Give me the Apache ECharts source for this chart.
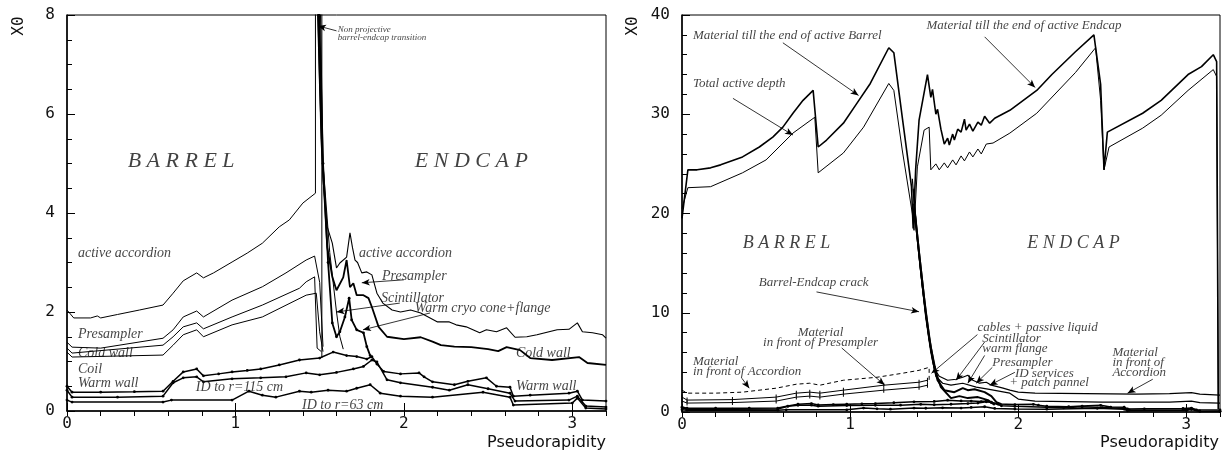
<!DOCTYPE html>
<html><head><meta charset="utf-8">
<script src="https://cdn.jsdelivr.net/npm/echarts@6/dist/echarts.min.js"></script>
<style>html,body{margin:0;padding:0;background:#fff}#c{width:1223px;height:455px}</style>
</head><body><div id="c"></div>
<script>
// ---------- LEFT PANEL DATA (eta, X0) ----------
const accBarrel = [[0,2.04],[0.04,1.88],[0.14,1.88],[0.18,1.92],[0.2,1.88],[0.3,1.95],[0.43,2.04],[0.57,2.14],[0.63,2.38],[0.69,2.63],[0.77,2.79],[0.81,2.69],[0.87,2.79],[0.98,3.01],[1.07,3.19],[1.16,3.39],[1.26,3.72],[1.32,3.86],[1.40,4.2],[1.475,4.4],[1.475,9]];
const presBarrel = [[0,1.39],[0.03,1.29],[0.2,1.27],[0.57,1.47],[0.63,1.64],[0.69,1.9],[0.77,2.02],[0.81,1.9],[0.98,2.24],[1.16,2.51],[1.3,2.79],[1.42,3.05],[1.47,3.13],[1.50,2.6],[1.52,1.3]];
const coldBarrel = [[0,1.27],[0.03,1.17],[0.57,1.33],[0.63,1.5],[0.69,1.7],[0.77,1.78],[0.81,1.66],[0.98,1.9],[1.16,2.14],[1.38,2.48],[1.42,2.61],[1.47,2.71],[1.485,1.27],[1.51,1.2]];
const coilBarrel = [[0,1.19],[0.03,1.09],[0.57,1.13],[0.63,1.33],[0.69,1.54],[0.77,1.64],[0.81,1.5],[0.98,1.74],[1.16,1.9],[1.42,2.34],[1.48,2.38],[1.5,1.6],[1.52,1.2]];
const accEndcap = [[1.48,9],[1.50,6.5],[1.52,4.67],[1.545,3.72],[1.575,3.39],[1.6,2.89],[1.62,2.99],[1.66,3.11],[1.68,3.6],[1.695,3.3],[1.71,3.05],[1.725,3.0],[1.75,2.79],[1.78,2.81],[1.81,2.75],[1.84,2.38],[1.875,2.18],[1.93,2.04],[1.98,2.0],[2.04,2.04],[2.1,1.98],[2.2,1.8],[2.27,1.8],[2.31,1.74],[2.37,1.7],[2.45,1.58],[2.49,1.64],[2.55,1.6],[2.61,1.68],[2.66,1.49],[2.73,1.5],[2.79,1.54],[2.91,1.64],[2.98,1.65],[3.03,1.78],[3.06,1.6],[3.12,1.58],[3.18,1.54],[3.2,1.47]];
const presEndcap = [[1.485,9],[1.51,5.5],[1.545,3.31],[1.575,2.71],[1.6,2.44],[1.64,2.7],[1.66,3.05],[1.68,2.5],[1.7,2.58],[1.72,2.34],[1.76,2.34],[1.79,2.28],[1.81,2.1],[1.85,1.7],[1.9,1.5],[2.0,1.45],[2.1,1.49],[2.17,1.4],[2.22,1.33],[2.3,1.3],[2.4,1.29],[2.5,1.25],[2.56,1.21],[2.61,1.29],[2.69,1.23],[2.75,1.07],[2.88,1.03],[3.04,1.09],[3.09,0.97],[3.2,0.93]];
const cryoEndcap = [[1.49,9],[1.52,5],[1.55,3.0],[1.575,1.78],[1.6,1.5],[1.62,1.6],[1.65,1.9],[1.675,2.28],[1.69,1.84],[1.72,1.64],[1.76,1.58],[1.78,1.3],[1.8,1.12]];
const scintEndcap = [[1.5,9],[1.52,5],[1.56,3.2],[1.6,2.0],[1.62,1.5],[1.64,1.25]];
const crackEdge = [[1.513,9],[1.513,1.07]];
const warmWall = [[0,0.5],[0.03,0.38],[0.2,0.38],[0.4,0.39],[0.57,0.4],[0.63,0.6],[0.69,0.79],[0.77,0.85],[0.81,0.71],[0.9,0.75],[0.98,0.79],[1.07,0.82],[1.15,0.85],[1.26,0.93],[1.38,1.03],[1.5,1.07],[1.58,1.19],[1.66,1.12],[1.72,1.1],[1.78,1.05],[1.81,1.1],[1.84,0.95],[1.88,0.8],[1.98,0.75],[2.09,0.77],[2.12,0.69],[2.17,0.59],[2.3,0.53],[2.38,0.6],[2.49,0.67],[2.55,0.5],[2.63,0.48],[2.65,0.3],[2.75,0.32],[2.98,0.36],[3.03,0.4],[3.06,0.22],[3.2,0.2]];
const id115 = [[0,0.42],[0.03,0.28],[0.3,0.28],[0.57,0.3],[0.63,0.57],[0.69,0.67],[0.77,0.69],[0.81,0.59],[0.98,0.65],[1.15,0.67],[1.3,0.69],[1.42,0.77],[1.5,0.73],[1.6,0.78],[1.7,0.85],[1.76,0.9],[1.81,1.03],[1.84,0.99],[1.9,0.63],[1.98,0.57],[2.17,0.48],[2.27,0.42],[2.38,0.53],[2.5,0.45],[2.63,0.36],[2.66,0.2],[2.98,0.22],[3.03,0.3],[3.08,0.1],[3.2,0.08]];
const id63 = [[0,0.22],[0.03,0.18],[0.57,0.18],[0.62,0.22],[0.98,0.22],[1.08,0.4],[1.16,0.32],[1.24,0.28],[1.38,0.4],[1.45,0.38],[1.55,0.42],[1.66,0.4],[1.72,0.46],[1.8,0.53],[1.86,0.36],[1.98,0.3],[2.17,0.28],[2.47,0.38],[2.63,0.28],[2.65,0.12],[3.0,0.16],[3.03,0.26],[3.08,0.06],[3.2,0.04]];

// ---------- RIGHT PANEL DATA (eta, X0) ----------
const tillEnd = [[0,19.5],[0.035,24.4],[0.09,24.4],[0.17,24.6],[0.23,24.9],[0.36,25.7],[0.46,26.7],[0.54,27.7],[0.6,28.7],[0.66,30.1],[0.72,31.4],[0.78,32.4],[0.81,26.7],[0.86,27.4],[0.96,29.1],[1.04,31.1],[1.12,33.1],[1.23,36.7],[1.26,36.2],[1.31,29.7],[1.365,22.7],[1.375,18.5],[1.39,24.5],[1.41,29.4],[1.46,34],[1.48,31.7],[1.49,32.5],[1.51,30.0],[1.52,30.5],[1.54,28.5],[1.56,27.0],[1.58,27.6],[1.59,26.9],[1.61,28.0],[1.62,27.4],[1.64,28.5],[1.66,28.2],[1.68,29.5],[1.69,28.4],[1.71,29.0],[1.73,28.3],[1.76,29.2],[1.78,28.9],[1.80,29.8],[1.83,29.1],[1.86,29.6],[1.95,30.4],[2.11,32.4],[2.2,34],[2.34,36.3],[2.45,38],[2.46,38.2],[2.49,33],[2.51,24.4],[2.53,28.2],[2.74,30.1],[2.85,31.4],[3.01,34],[3.09,34.8],[3.16,36],[3.18,35.3],[3.19,0.3]];
const activeDepth = [[0,20.5],[0.035,22.6],[0.17,22.7],[0.36,24.1],[0.5,25.4],[0.66,28.1],[0.79,29.7],[0.81,24.1],[0.96,26.1],[1.08,28.7],[1.23,33.1],[1.26,32.4],[1.31,26.4],[1.37,20],[1.38,18.3],[1.40,24.7],[1.44,28.4],[1.47,28.7],[1.48,24.4],[1.49,24.3],[1.51,25.0],[1.53,24.4],[1.56,25.1],[1.58,24.6],[1.61,25.4],[1.63,24.9],[1.66,25.8],[1.68,25.3],[1.71,26.2],[1.73,25.7],[1.76,26.5],[1.78,26.0],[1.81,27.0],[1.85,27.1],[1.95,28.1],[2.11,30.1],[2.34,34.2],[2.46,36.7],[2.49,31.4],[2.51,24.4],[2.54,26.7],[2.74,28.6],[2.85,29.9],[3.01,32.4],[3.16,34.5],[3.18,33.8],[3.19,0.3]];
const frontAccBarrel = [[0,2.2],[0.03,1.9],[0.2,1.9],[0.36,2.0],[0.56,2.4],[0.68,2.8],[0.76,2.9],[0.82,2.7],[0.96,3.2],[1.16,3.5],[1.31,3.9],[1.41,4.2],[1.47,4.5],[1.47,3.0]];
const frontPres1 = [[0,1.5],[0.03,1.2],[0.3,1.25],[0.56,1.5],[0.68,1.9],[0.76,2.0],[0.82,1.9],[0.96,2.2],[1.2,2.7],[1.41,3.0],[1.46,3.2]];
const frontPres2 = [[0,1.1],[0.03,0.9],[0.3,0.95],[0.56,1.1],[0.68,1.5],[0.76,1.6],[0.82,1.5],[0.96,1.8],[1.2,2.2],[1.41,2.5],[1.46,2.7]];
const frontAccEndcap = [[1.37,23.5],[1.39,19],[1.42,14],[1.45,9.5],[1.48,6],[1.50,4.4],[1.53,3.6],[1.58,3.2],[1.63,3.3],[1.67,3.5],[1.70,3.7],[1.73,3.2],[1.77,2.9],[1.81,3.0],[1.84,2.7],[1.91,2.4],[1.95,2.2],[2.0,2.0],[2.1,1.9],[2.4,1.85],[2.7,1.8],[2.9,1.85],[3.03,1.95],[3.08,1.8],[3.2,1.7]];
const frontPresEndcap = [[1.375,22.5],[1.40,17.5],[1.43,12.5],[1.46,8.5],[1.49,5.2],[1.51,3.6],[1.55,2.9],[1.6,2.7],[1.67,2.9],[1.75,2.5],[1.82,2.3],[1.95,1.9],[2.0,1.3],[2.1,1.1],[2.5,1.0],[2.9,1.0],[3.03,1.1],[3.08,0.95],[3.2,0.9]];
const cablesEndcap = [[1.38,21],[1.41,16],[1.44,11.5],[1.47,7.5],[1.50,4.6],[1.52,3.2],[1.56,2.2],[1.62,2.0],[1.67,2.4],[1.70,2.2],[1.74,2.3],[1.8,2.0],[1.84,1.6],[1.87,1.0],[1.9,0.8]];
const flangeEndcap = [[1.385,20],[1.42,14.5],[1.45,10],[1.48,6.5],[1.51,4.0],[1.54,2.5],[1.6,1.4],[1.65,1.6],[1.7,1.4],[1.76,1.5],[1.82,1.2],[1.86,0.7]];

// ---------- ANNOTATIONS [text, eta, X0, kind] ----------
const leftLabels = [
  ['B A R R E L',0.36,5.05,'big'],['E N D C A P',2.065,5.05,'big'],
  ['Non projective\nbarrel-endcap transition',1.608,7.62,'tiny'],
  ['active accordion',0.065,3.19],['Presampler',0.065,1.54],['Cold wall',0.065,1.17],
  ['Coil',0.065,0.85],['Warm wall',0.065,0.55],['ID to r=115 cm',0.765,0.48],
  ['ID to r=63 cm',1.395,0.12],['active accordion',1.733,3.19],['Presampler',1.87,2.73],
  ['Scintillator',1.864,2.28],['Warm cryo cone+flange',2.065,2.08],
  ['Cold wall',2.665,1.17],['Warm wall',2.665,0.5]
];
const leftArrows = [[[1.60,7.68],[1.49,7.78]],[[2.0,2.65],[1.75,2.59]],[[1.976,2.18],[1.60,2.0]],[[2.155,1.98],[1.757,1.64]]];
const rightLabels = [
  ['Material till the end of active Barrel',0.065,37.9],['Total active depth',0.065,33.1],
  ['Material till the end of active Endcap',1.454,38.9],
  ['B A R R E L',0.362,17.0,'mid'],['E N D C A P',2.053,17.0,'mid'],
  ['Barrel-Endcap crack',0.457,13.0],
  ['Material\nin front of Presampler',0.824,7.46,'center'],
  ['Material\nin front of Accordion',0.065,4.53],
  ['cables + passive liquid',1.757,8.5],['Scintillator',1.786,7.35],['warm flange',1.786,6.35],
  ['Presampler',1.846,5.0],['ID services',1.98,3.9],['+ patch pannel',1.947,3.0],
  ['Material\nin front of\nAccordion',2.56,4.94]
];
const rightArrows = [[[0.6,37.2],[1.05,31.9]],[[0.303,31.6],[0.66,27.9]],[[1.8,37.8],[2.1,32.7]],[[0.80,12.1],[1.41,10.1]],[[0.95,6.45],[1.205,2.72]],[[0.356,3.4],[0.40,2.4]],[[1.757,7.8],[1.484,3.9]],[[1.8,7.05],[1.63,3.2]],[[1.80,5.7],[1.70,2.9]],[[1.846,4.5],[1.75,2.9]],[[1.98,4.0],[1.83,2.7]],[[2.80,3.3],[2.65,1.9]]];

const SERIF = 'Liberation Serif', MONO = 'DejaVu Sans Mono';
const chart = echarts.init(document.getElementById('c'), null, {renderer:'canvas'});

function mainX(gi){ return {gridIndex:gi,type:'value',min:0,max:3.2,interval:1,
  axisLine:{show:true,onZero:false,lineStyle:{color:'#000',width:1.5}},
  axisTick:{show:true,inside:true,length:8,lineStyle:{color:'#000'}},
  splitLine:{show:false},
  axisLabel:{showMaxLabel:false,fontFamily:MONO,fontSize:16,color:'#111',margin:5}}; }
function minorX(gi){ return {gridIndex:gi,type:'value',min:0,max:3.2,interval:0.2,
  axisLine:{show:false},axisTick:{show:true,inside:true,length:5,lineStyle:{color:'#000'}},
  splitLine:{show:false},axisLabel:{show:false}}; }
function yAx(gi,max,iv,ms){ return {gridIndex:gi,type:'value',min:0,max:max,interval:iv,
  axisLine:{show:true,onZero:false,lineStyle:{color:'#000',width:1.5}},
  axisTick:{show:true,inside:true,length:8,lineStyle:{color:'#000'}},
  minorTick:{show:true,splitNumber:ms,length:5,lineStyle:{color:'#000'}},
  splitLine:{show:false},
  axisLabel:{fontFamily:MONO,fontSize:16,color:'#111',margin:12}}; }

function line(data, xi, yi, o){ o=o||{};
  return {type:'line',xAxisIndex:xi,yAxisIndex:yi,data:data,clip:true,
    showSymbol:!!o.sym,symbol:o.symbol||'circle',symbolSize:o.symSize||2.8,
    itemStyle:{color:'#000'},
    lineStyle:{color:'#000',width:o.w||1,type:o.type||'solid'},
    silent:true,animation:false,z:o.z||2}; }

function labelSeries(list, xi, yi, fs){
  return {type:'scatter',xAxisIndex:xi,yAxisIndex:yi,symbolSize:0,silent:true,animation:false,z:5,
    data:list.map(function(l){
      const kind=l[3]; let size=fs, lh=Math.round(fs*0.78);
      if(kind==='big'){size=22;} else if(kind==='mid'){size=18;} else if(kind==='tiny'){size=9;lh=8.5;}
      return {value:[l[1],l[2]],label:{show:true,formatter:l[0],
        position:kind==='center'?'inside':'right',distance:0,
        align:kind==='center'?'center':'left',
        fontFamily:SERIF,fontStyle:'italic',fontSize:size,lineHeight:lh,color:'#111'}};
    })};
}
function arrowMark(list){
  return {silent:true,symbol:['none','arrow'],symbolSize:[5,8],animation:false,
    label:{show:false},lineStyle:{color:'#000',width:0.8,type:'solid'},
    emphasis:{disabled:true},
    data:list.map(function(a){return [{coord:a[0]},{coord:a[1]}];})};
}

const s = [];
// left
s.push(line(accBarrel,0,0,{w:1}));
s.push(line(presBarrel,0,0,{w:1}));
s.push(line(coldBarrel,0,0,{w:1}));
s.push(line(coilBarrel,0,0,{w:1}));
s.push(line(accEndcap,0,0,{w:1.1}));
s.push(line(presEndcap,0,0,{w:1.8}));
s.push(line(cryoEndcap,0,0,{w:1.8,sym:true}));
s.push(line(scintEndcap,0,0,{w:1}));
s.push(line(crackEdge,0,0,{w:1}));
s.push(line(warmWall,0,0,{w:1.5,sym:true}));
s.push(line(id115,0,0,{w:1.5,sym:true}));
const l63 = line(id63,0,0,{w:1.5,sym:true}); l63.markLine = arrowMark(leftArrows); s.push(l63);
s.push(labelSeries(leftLabels,0,0,14));
// right
s.push(line(tillEnd,2,1,{w:1.6}));
s.push(line(activeDepth,2,1,{w:1}));
s.push(line(frontAccBarrel,2,1,{w:1,type:[4,3]}));
s.push(line(frontPres1,2,1,{w:1,sym:true,symbol:'rect',symSize:[1,5]}));
s.push(line(frontPres2,2,1,{w:1,sym:true,symbol:'rect',symSize:[1,5]}));
s.push(line(frontAccEndcap,2,1,{w:1.2}));
s.push(line(frontPresEndcap,2,1,{w:1.2}));
s.push(line(cablesEndcap,2,1,{w:2}));
s.push(line(flangeEndcap,2,1,{w:2}));
s.push(line(warmWall,2,1,{w:1.5,sym:true}));
s.push(line(id115,2,1,{w:1.5,sym:true}));
const r63 = line(id63,2,1,{w:1.5,sym:true}); r63.markLine = arrowMark(rightArrows); s.push(r63);
s.push(labelSeries(rightLabels,2,1,13));

chart.setOption({
  animation:false,
  backgroundColor:'#fff',
  grid:[{left:67,right:617,top:15,bottom:44,show:true,borderColor:'#000',borderWidth:1},
        {left:682,right:3,top:15,bottom:43,show:true,borderColor:'#000',borderWidth:1}],
  xAxis:[mainX(0),minorX(0),mainX(1),minorX(1)],
  yAxis:[yAx(0,8,2,4),yAx(1,40,10,5)],
  series:s,
  graphic:[
    {type:'text',x:19,y:26,rotation:Math.PI/2,style:{text:'X0',font:'16px "DejaVu Sans Mono"',fill:'#111',align:'center',verticalAlign:'middle'}},
    {type:'text',x:633,y:26,rotation:Math.PI/2,style:{text:'X0',font:'16px "DejaVu Sans Mono"',fill:'#111',align:'center',verticalAlign:'middle'}},
    {type:'text',x:606,y:443,style:{text:'Pseudorapidity',font:'16px "DejaVu Sans"',fill:'#111',align:'right',verticalAlign:'middle'}},
    {type:'text',x:1219,y:443,style:{text:'Pseudorapidity',font:'16px "DejaVu Sans"',fill:'#111',align:'right',verticalAlign:'middle'}}
  ]
});
</script></body></html>
